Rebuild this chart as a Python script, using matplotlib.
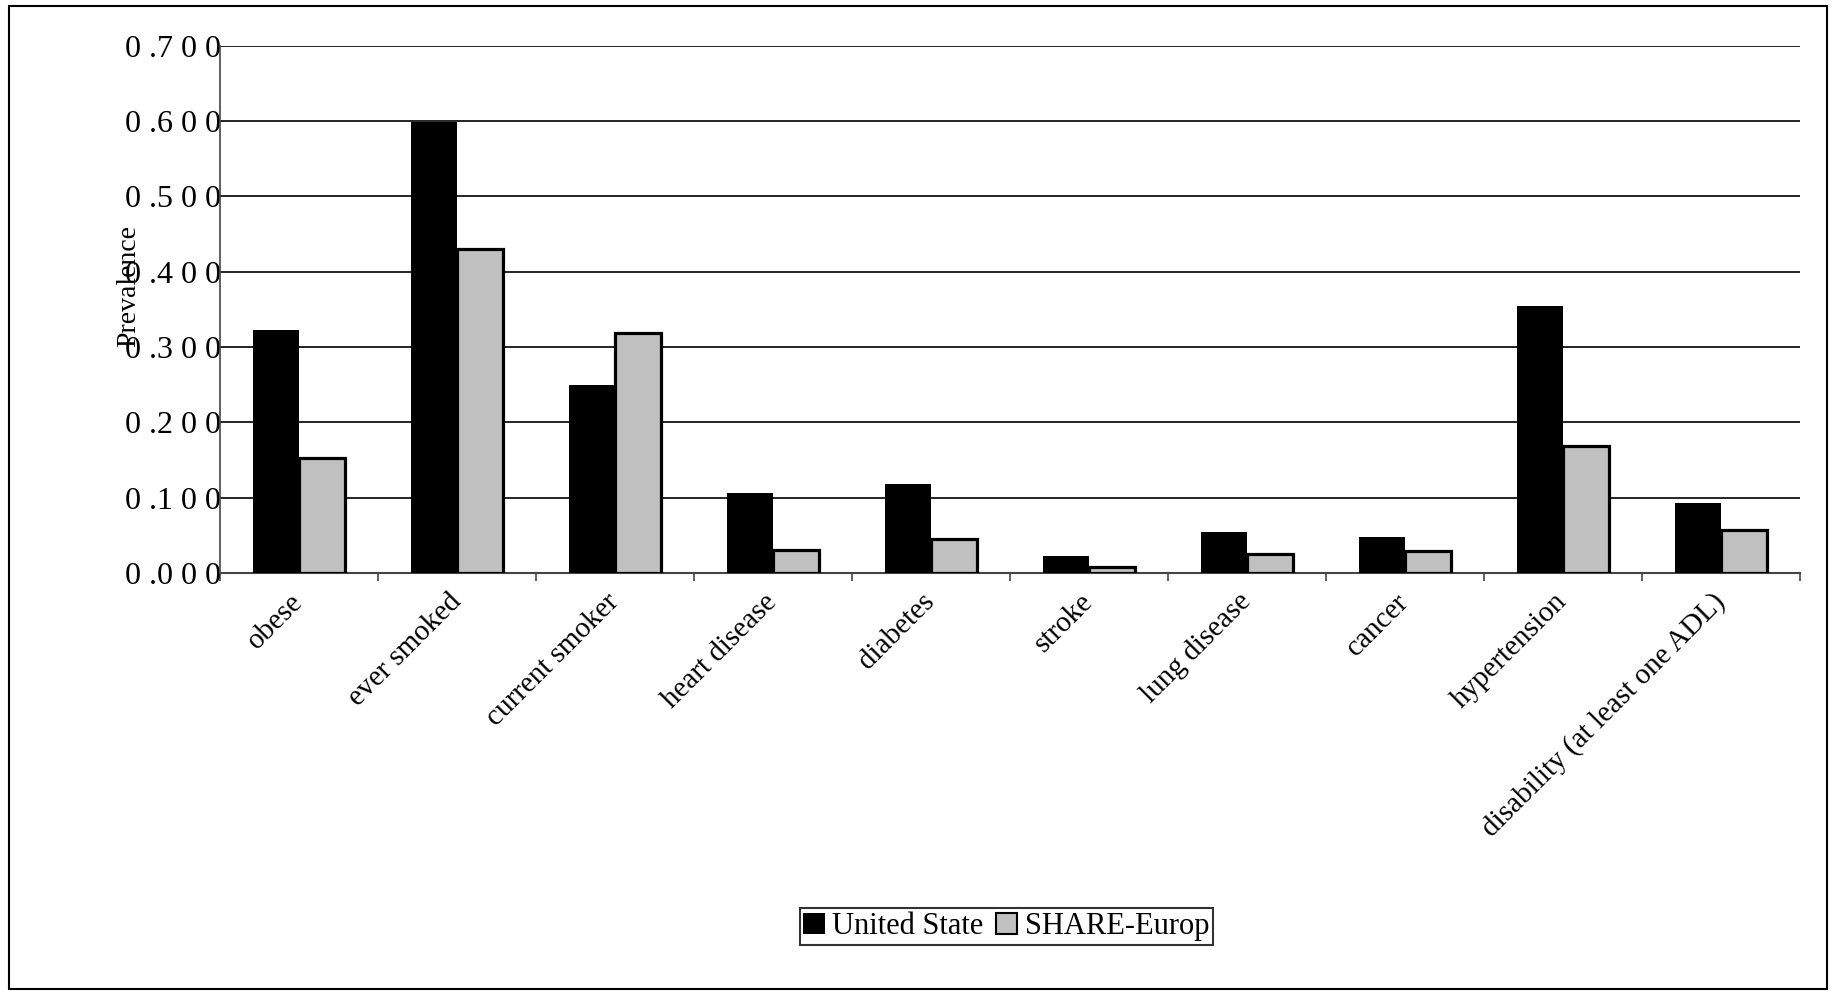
import matplotlib.pyplot as plt
import numpy as np
from matplotlib.patches import Patch, Rectangle

# prevalence by condition, US vs SHARE countries
categories = ['obese', 'ever smoked', 'current smoker', 'heart disease', 'diabetes',
              'stroke', 'lung disease', 'cancer', 'hypertension',
              'disability (at least one ADL)']
us_vals = [0.323, 0.599, 0.250, 0.106, 0.118, 0.023, 0.054, 0.048, 0.354, 0.093]
share_vals = [0.152, 0.430, 0.318, 0.031, 0.045, 0.008, 0.025, 0.029, 0.169, 0.057]
legend_labels = ['United State', 'SHARE-Europ']
yticks = [0.0, 0.1, 0.2, 0.3, 0.4, 0.5, 0.6, 0.7]

plt.rcParams['font.family'] = ['Liberation Serif', 'DejaVu Serif']

fig = plt.figure(figsize=(18.33, 9.93), dpi=100)
ax = fig.add_axes([0.120, 0.423, 0.862, 0.531])

x = np.arange(len(categories))
w = 0.29
ax.bar(x - w / 2, us_vals, w, color='black', zorder=3)
ax.bar(x + w / 2, share_vals, w, color='#c0c0c0', edgecolor='black', linewidth=2.3, zorder=3)

ax.set_xlim(-0.5, len(categories) - 0.5)
ax.set_ylim(0, 0.7)
ax.set_yticks(yticks)

def spaced(v):
    return ' '.join(f'{v:.3f}').replace('. ', '.')

ax.set_yticklabels([spaced(v) for v in yticks], fontsize=23)
ax.tick_params(axis='y', length=0, pad=-1)
for v in yticks[1:]:
    ax.axhline(v, color='black', lw=1.2, zorder=1)

ax.set_xticks(x)
ax.set_xticklabels(categories, fontsize=21, rotation=45, ha='right', va='center',
                   rotation_mode='anchor')
ax.tick_params(axis='x', which='major', length=0, pad=18)
ax.set_xticks(np.arange(len(categories) + 1) - 0.5, minor=True)
ax.tick_params(axis='x', which='minor', length=6, width=1.2, color='#444444', direction='out')

for s in ['top', 'right']:
    ax.spines[s].set_visible(False)
ax.spines['left'].set_color('#444444')
ax.spines['bottom'].set_color('#444444')
ax.spines['left'].set_linewidth(1.2)
ax.spines['bottom'].set_linewidth(1.5)

fig.text(0.070, 0.712, 'Prevalence', rotation=90, fontsize=20, ha='center', va='center')

handles = [Patch(facecolor='black'), Patch(facecolor='#c0c0c0', edgecolor='black', linewidth=1.5)]
leg = fig.legend(handles, legend_labels, loc='center', bbox_to_anchor=(0.549, 0.067), ncol=2,
                 fontsize=22, frameon=True, fancybox=False, handlelength=0.7, handleheight=0.7,
                 handletextpad=0.25, columnspacing=0.4, borderpad=0.12, borderaxespad=0)
leg.get_frame().set_edgecolor('black')
leg.get_frame().set_linewidth(1.5)

# frame round the whole chart
fig.patches.append(Rectangle((9 / 1833, 4 / 993), 1818 / 1833, 983 / 993, transform=fig.transFigure,
                             fill=False, edgecolor='black', linewidth=1.5))

fig.savefig('out.png', dpi=100)
